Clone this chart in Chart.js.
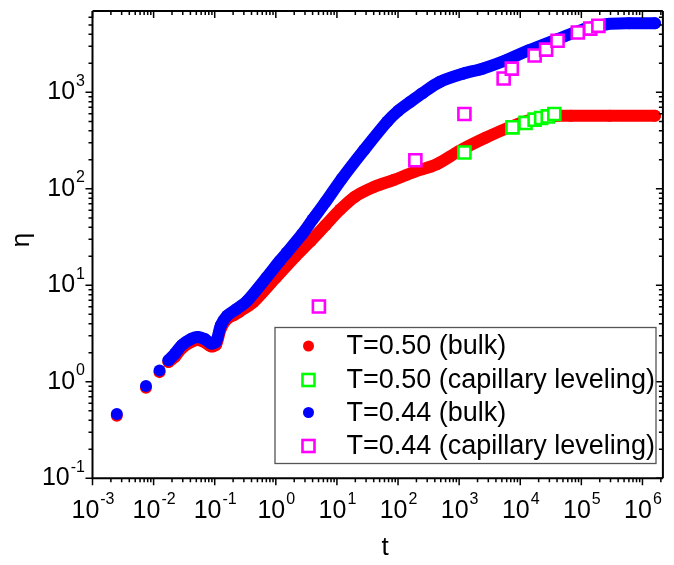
<!DOCTYPE html>
<html lang="en">
<head>
<meta charset="UTF-8">
<title>Viscosity vs time</title>
<script src="https://cdn.jsdelivr.net/npm/chart.js@4.4.1/dist/chart.umd.min.js"></script>
<style>
  body { margin: 0; background: #fff; }
  #chart { display: block; }
</style>
</head>
<body>
<canvas id="chart" width="674" height="565"></canvas>
<script>
// T=0.50 bulk (red)
const tBulk50 = [2.5e-3, 7.5e-3, 1.25e-2, 1.75e-2, 2.25e-2, 2.9e-2, 4.2e-2, 5.3e-2, 6.8e-2, 8.7e-2, 0.105, 0.126, 0.16, 0.21, 0.25, 0.43, 1.0, 2.1, 3.7, 6.5, 11.3, 19.7, 41, 86, 180, 430, 1000, 2700, 7300, 15200, 32000, 67000, 290000, 1.6e6];
const etaBulk50 = [0.445, 0.87, 1.26, 1.6, 1.83, 2.23, 2.6, 2.72, 2.58, 2.33, 2.42, 3.58, 4.5, 4.95, 5.3, 6.7, 12, 20, 28.7, 42, 61, 83, 105, 124, 149, 180, 247, 338, 445, 521, 568, 572, 572, 572];

// T=0.50 capillary leveling (green squares)
const tCap50 = [1220, 7470, 12200, 17200, 22000, 28200, 36100];
const etaCap50 = [238, 434, 482, 521, 542, 563, 596];

// T=0.44 bulk (blue)
const tBulk44 = [2.5e-3, 7.5e-3, 1.25e-2, 1.75e-2, 2.25e-2, 2.9e-2, 4.2e-2, 5.3e-2, 6.8e-2, 8.7e-2, 0.105, 0.126, 0.16, 0.23, 0.34, 0.7, 1.15, 1.5, 2.7, 4, 6.5, 12, 28, 67, 100, 160, 250, 480, 1150, 2400, 5700, 13500, 41000, 110000, 260000, 610000, 1.6e6];
const etaBulk44 = [0.465, 0.905, 1.31, 1.67, 1.97, 2.4, 2.8, 2.92, 2.78, 2.5, 2.6, 3.85, 4.85, 5.7, 6.9, 12, 17.8, 21.7, 34, 48, 73, 127, 254, 500, 640, 800, 980, 1280, 1560, 1760, 2140, 2710, 3570, 4520, 5080, 5200, 5200];

// T=0.44 capillary leveling (magenta squares)
const tCap44 = [5.07, 192, 1220, 5350, 7280, 17200, 26500, 40800, 87500, 140000, 190000];
const etaCap44 = [6.03, 198, 596, 1390, 1760, 2410, 2770, 3430, 4170, 4580, 4890];

const xDecades = [-3, -2, -1, 0, 1, 2, 3, 4, 5, 6];
const yDecades = [-1, 0, 1, 2, 3];
const seriesLabels = ["T=0.50 (bulk)", "T=0.50 (capillary leveling)", "T=0.44 (bulk)", "T=0.44 (capillary leveling)"];

const FONT = "'Liberation Sans', Arial, sans-serif";
const nSparse = 4; // first points are not dense enough to merge into a band

function pts(xs, ys) {
  return xs.map((x, i) => ({ x: x, y: ys[i] }));
}

function bulk(label, xs, ys, color, order) {
  return {
    label: label,
    data: pts(xs, ys),
    showLine: true,
    borderColor: color,
    borderWidth: 12,
    borderCapStyle: "round",
    borderJoinStyle: "round",
    tension: 0.3,
    segment: {
      borderColor: (c) => (c.p0DataIndex < nSparse - 1 ? "rgba(0,0,0,0)" : color),
    },
    pointRadius: 6,
    pointBorderWidth: 0,
    pointBackgroundColor: color,
    order: order,
  };
}

function squares(label, xs, ys, color, order) {
  return {
    label: label,
    data: pts(xs, ys),
    showLine: false,
    pointStyle: "rect",
    pointRadius: 8.5,
    pointBorderWidth: 2.6,
    pointBorderColor: color,
    pointBackgroundColor: "#fff",
    order: order,
  };
}

const axesAndLegend = {
  id: "axesAndLegend",
  afterDraw(chart) {
    const { ctx, chartArea: a } = chart;
    const xs = chart.scales.x, ys = chart.scales.y;
    ctx.save();
    ctx.strokeStyle = "#000";
    ctx.lineWidth = 2;
    ctx.beginPath();
    ctx.moveTo(a.left, a.top);
    ctx.lineTo(a.right, a.top);
    ctx.moveTo(a.left, a.top);
    ctx.lineTo(a.left, a.bottom);
    ctx.lineTo(a.right, a.bottom);
    ctx.moveTo(a.right, a.top);
    ctx.lineTo(a.right, a.bottom);
    ctx.stroke();

    // ticks
    ctx.lineWidth = 1.5;
    ctx.beginPath();
    for (let e = -3; e <= 6; e++) {
      for (let m = 1; m <= 9; m++) {
        const v = m * Math.pow(10, e);
        if (v < xs.min || v > xs.max) continue;
        const px = xs.getPixelForValue(v);
        const len = m === 1 ? 7 : 4;
        ctx.moveTo(px, a.bottom);
        ctx.lineTo(px, a.bottom + len);
        ctx.moveTo(px, a.top);
        ctx.lineTo(px, a.top + len);
      }
    }
    for (let e = -1; e <= 3; e++) {
      for (let m = 1; m <= 9; m++) {
        const v = m * Math.pow(10, e);
        if (v < ys.min || v > ys.max) continue;
        const py = ys.getPixelForValue(v);
        const len = m === 1 ? 7 : 4;
        ctx.moveTo(a.left, py);
        ctx.lineTo(a.left - len, py);
        ctx.moveTo(a.right, py);
        ctx.lineTo(a.right - len, py);
      }
    }
    ctx.stroke();

    // tick labels: 10 with superscript exponent
    ctx.fillStyle = "#000";
    ctx.textBaseline = "middle";
    const big = "25px " + FONT, small = "16px " + FONT;
    xDecades.forEach((e) => {
      const px = xs.getPixelForValue(Math.pow(10, e));
      ctx.font = big;
      const w1 = ctx.measureText("10").width;
      ctx.font = small;
      const w2 = ctx.measureText(String(e)).width;
      const x0 = px - (w1 + w2) / 2;
      ctx.textAlign = "left";
      ctx.font = big;
      ctx.fillText("10", x0, 511);
      ctx.font = small;
      ctx.fillText(String(e), x0 + w1 + 1, 500);
    });
    yDecades.forEach((e) => {
      const py = ys.getPixelForValue(Math.pow(10, e));
      ctx.font = small;
      const w2 = ctx.measureText(String(e)).width;
      const right = 85;
      ctx.textAlign = "right";
      ctx.fillText(String(e), right, py - 11);
      ctx.font = big;
      ctx.fillText("10", right - w2 - 1, py);
    });

    // axis titles
    ctx.font = "26px " + FONT;
    ctx.textAlign = "center";
    ctx.fillText("t", 385, 548);
    ctx.save();
    ctx.translate(22, 240);
    ctx.rotate(-Math.PI / 2);
    ctx.fillText("\u03b7", 0, 0);
    ctx.restore();

    // legend box
    const box = { l: 275, t: 327.5, r: 656, b: 463.5 };
    ctx.fillStyle = "#fff";
    ctx.fillRect(box.l, box.t, box.r - box.l, box.b - box.t);
    ctx.strokeStyle = "#555";
    ctx.lineWidth = 1.3;
    ctx.strokeRect(box.l, box.t, box.r - box.l, box.b - box.t);
    const rows = [346, 380, 412.5, 446];
    const colors = ["#ff0000", "#00ff00", "#0000ff", "#ff00ff"];
    rows.forEach((ry, i) => {
      if (i % 2 === 0) {
        ctx.fillStyle = colors[i];
        ctx.beginPath();
        ctx.arc(308.5, ry, 5.5, 0, Math.PI * 2);
        ctx.fill();
      } else {
        ctx.strokeStyle = colors[i];
        ctx.lineWidth = 2.6;
        ctx.strokeRect(308.5 - 6, ry - 6, 12, 12);
      }
      ctx.fillStyle = "#000";
      ctx.font = "27px " + FONT;
      ctx.textAlign = "left";
      ctx.textBaseline = "middle";
      ctx.fillText(seriesLabels[i], 346.5, ry + 1);
    });
    ctx.restore();
  },
};

new Chart(document.getElementById("chart"), {
  type: "scatter",
  data: {
    datasets: [
      bulk(seriesLabels[0], tBulk50, etaBulk50, "#ff0000", 4),
      squares(seriesLabels[1], tCap50, etaCap50, "#00ff00", 2),
      bulk(seriesLabels[2], tBulk44, etaBulk44, "#0000ff", 3),
      squares(seriesLabels[3], tCap44, etaCap44, "#ff00ff", 1),
    ],
  },
  options: {
    responsive: false,
    animation: false,
    layout: { padding: { left: 92.5, right: 0, top: 5, bottom: 86.7 } },
    scales: {
      x: { type: "logarithmic", min: 1e-3, max: 2.16e6, display: false },
      y: { type: "logarithmic", min: 0.1, max: 6950, display: false },
    },
    plugins: {
      legend: { display: false },
      tooltip: { enabled: false },
    },
  },
  plugins: [axesAndLegend],
});
</script>
</body>
</html>
